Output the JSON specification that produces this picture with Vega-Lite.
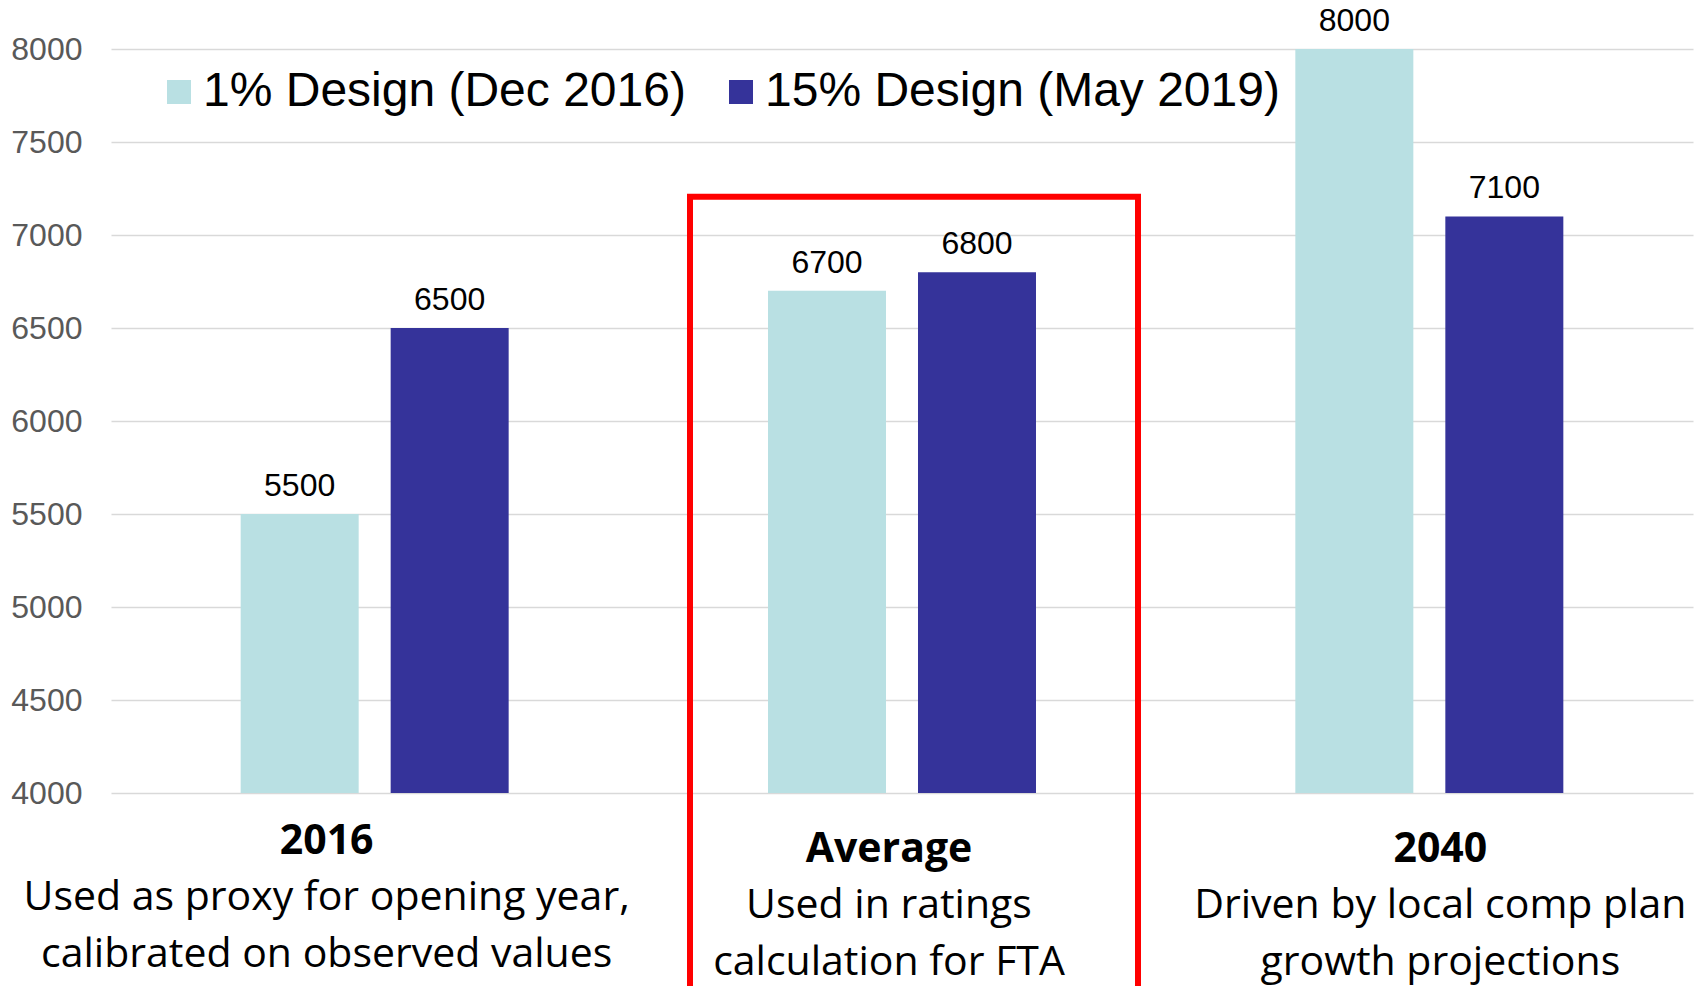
{
  "$schema": "https://vega.github.io/schema/vega-lite/v6.json",
  "width": 1582,
  "height": 744,
  "autosize": {"type": "none"},
  "padding": {"left": 111, "top": 49, "right": 5, "bottom": 193},
  "background": "white",
  "config": {"view": {"stroke": null}, "font": "Liberation Sans"},
  "data": {"values": [
    {"cat": "2016", "series": "1% Design (Dec 2016)", "value": 5500},
    {"cat": "2016", "series": "15% Design (May 2019)", "value": 6500},
    {"cat": "Average", "series": "1% Design (Dec 2016)", "value": 6700},
    {"cat": "Average", "series": "15% Design (May 2019)", "value": 6800},
    {"cat": "2040", "series": "1% Design (Dec 2016)", "value": 8000},
    {"cat": "2040", "series": "15% Design (May 2019)", "value": 7100}
  ]},
  "resolve": {"axis": {"x": "independent"}},
  "layer": [
    {
      "layer": [
        {
          "mark": {"type": "bar"},
          "encoding": {
            "x": {
              "field": "cat", "type": "nominal", "sort": ["2016", "Average", "2040"],
              "scale": {"paddingInner": 0.4918, "paddingOuter": 0.2459},
              "axis": {
                "title": null, "domain": false, "ticks": false, "tickSize": 0, "grid": false,
                "labelAngle": 0, "labelFont": "Open Sans", "labelFontWeight": "bold", "labelFontSize": 41,
                "labelColor": "#000000", "labelBaseline": "alphabetic", "labelAlign": "center",
                "labelLimit": 0, "labelOverlap": false, "labelBound": false, "labelFlush": false,
                "labelPadding": {"condition": {"test": "datum.value === '2016'", "value": 60}, "value": 68},
                "labelOffset": {"condition": [{"test": "datum.value === '2016'", "value": -48}, {"test": "datum.value === '2040'", "value": 11}], "value": -13}
              }
            },
            "xOffset": {
              "field": "series", "type": "nominal", "sort": ["1% Design (Dec 2016)", "15% Design (May 2019)"],
              "scale": {"paddingInner": 0.2133, "paddingOuter": 0}
            },
            "y": {
              "field": "value", "type": "quantitative",
              "scale": {"domain": [4000, 8000], "nice": false, "zero": false},
              "axis": {
                "title": null, "values": [4000, 4500, 5000, 5500, 6000, 6500, 7000, 7500, 8000], "format": "d",
                "domain": false, "ticks": false, "tickSize": 0,
                "labelFont": "Liberation Sans", "labelFontSize": 32, "labelColor": "#595959",
                "labelPadding": 29, "labelFlush": false, "labelOverlap": false,
                "gridColor": "#D9D9D9", "gridWidth": 1.5
              }
            },
            "y2": {"datum": 4000},
            "color": {
              "field": "series", "type": "nominal",
              "scale": {"domain": ["1% Design (Dec 2016)", "15% Design (May 2019)"], "range": ["#B9E0E3", "#35339A"]},
              "legend": {
                "orient": "none", "legendX": 44, "legendY": 19, "direction": "horizontal", "title": null,
                "symbolType": "square", "symbolSize": 576, "symbolStrokeWidth": 0, "symbolOpacity": 1,
                "labelFont": "Liberation Sans", "labelFontSize": 48, "labelColor": "#000000",
                "labelOffset": 0, "columnPadding": 31, "labelLimit": 0, "padding": 0
              }
            }
          }
        },
        {
          "mark": {"type": "text", "font": "Liberation Sans", "fontSize": 32, "color": "#000000", "baseline": "alphabetic", "align": "center", "dy": -18},
          "encoding": {
            "x": {"field": "cat", "type": "nominal", "sort": ["2016", "Average", "2040"]},
            "xOffset": {"field": "series", "type": "nominal", "sort": ["1% Design (Dec 2016)", "15% Design (May 2019)"]},
            "y": {"field": "value", "type": "quantitative"},
            "text": {"field": "value", "type": "quantitative", "format": "d"}
          }
        },
        {
          "data": {"values": [{"cat": "Average"}]},
          "mark": {"type": "bar", "width": 448, "xOffset": 12, "fillOpacity": 0, "stroke": "#FF0000", "strokeWidth": 6},
          "encoding": {
            "x": {"field": "cat", "type": "nominal", "sort": ["2016", "Average", "2040"]},
            "y": {"datum": 7205, "type": "quantitative"},
            "y2": {"datum": 2800}
          }
        }
      ]
    },
    {
      "mark": {"type": "point", "opacity": 0},
      "encoding": {
        "x": {
          "field": "cat", "type": "nominal", "sort": ["2016", "Average", "2040"],
          "axis": {
            "orient": "bottom", "title": null, "domain": false, "ticks": false, "tickSize": 0, "grid": false,
            "labelAngle": 0, "labelFont": "Open Sans", "labelFontWeight": "normal", "labelFontSize": 41,
            "labelColor": "#000000", "labelBaseline": "alphabetic", "labelAlign": "center", "labelLineHeight": 57,
            "labelLimit": 0, "labelOverlap": false, "labelBound": false, "labelFlush": false,
            "labelExpr": "datum.value === '2016' ? ['Used as proxy for opening year,', 'calibrated on observed values'] : datum.value === 'Average' ? ['Used in ratings', 'calculation for FTA'] : ['Driven by local comp plan', 'growth projections']",
            "labelPadding": {"condition": {"test": "datum.value === '2016'", "value": 116}, "value": 124},
            "labelOffset": {"condition": [{"test": "datum.value === '2016'", "value": -48}, {"test": "datum.value === '2040'", "value": 11}], "value": -13}
          }
        }
      }
    }
  ]
}
